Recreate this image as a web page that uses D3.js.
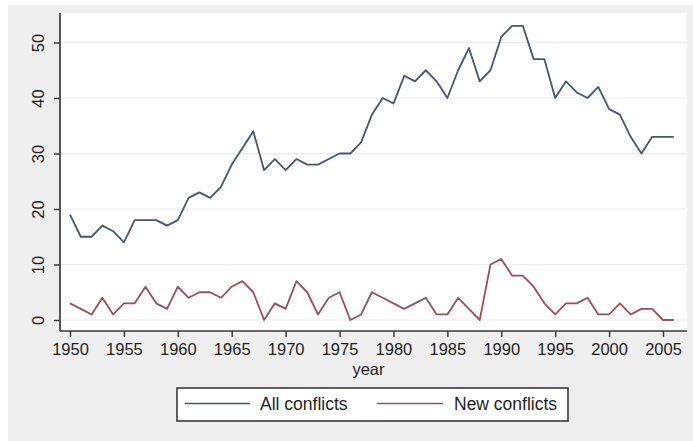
<!DOCTYPE html>
<html>
<head>
<meta charset="utf-8">
<script src="https://cdn.jsdelivr.net/npm/d3@7"></script>
<style>
  html, body { margin: 0; padding: 0; background: #ffffff; }
  svg { display: block; font-family: "Liberation Sans", Arial, sans-serif; }
</style>
</head>
<body>
<svg id="chart" width="693" height="441"></svg>
<script>
// Armed conflicts per year, 1950-2006
const years = d3.range(1950, 2007);
const allConflicts = [
  19, 15, 15, 17, 16, 14, 18, 18, 18, 17,
  18, 22, 23, 22, 24, 28, 31, 34, 27, 29,
  27, 29, 28, 28, 29, 30, 30, 32, 37, 40,
  39, 44, 43, 45, 43, 40, 45, 49, 43, 45,
  51, 53, 53, 47, 47, 40, 43, 41, 40, 42,
  38, 37, 33, 30, 33, 33, 33
];
const newConflicts = [
  3, 2, 1, 4, 1, 3, 3, 6, 3, 2,
  6, 4, 5, 5, 4, 6, 7, 5, 0, 3,
  2, 7, 5, 1, 4, 5, 0, 1, 5, 4,
  3, 2, 3, 4, 1, 1, 4, 2, 0, 10,
  11, 8, 8, 6, 3, 1, 3, 3, 4, 1,
  1, 3, 1, 2, 2, 0, 0
];
const xTicks = [1950, 1955, 1960, 1965, 1970, 1975, 1980, 1985, 1990, 1995, 2000, 2005];
const yTicks = [0, 10, 20, 30, 40, 50];
const seriesNames = ["All conflicts", "New conflicts"];
const seriesColors = ["#46566f", "#98505c"];

const svg = d3.select("#chart");

// graph region background
svg.append("rect").attr("x", 8).attr("y", 5).attr("width", 685).attr("height", 436)
  .attr("fill", "#efefef");

// plot region
const plot = { left: 60, right: 687, top: 13, bottom: 331 };
svg.append("rect")
  .attr("x", plot.left).attr("y", plot.top)
  .attr("width", plot.right - plot.left).attr("height", plot.bottom - plot.top)
  .attr("fill", "#ffffff");

const x = d3.scaleLinear().domain([1950, 2005]).range([70, 663]);
const y = d3.scaleLinear().domain([0, 50]).range([320, 42.5]);

// horizontal grid
svg.append("g").selectAll("line").data(yTicks).join("line")
  .attr("x1", plot.left).attr("x2", plot.right)
  .attr("y1", d => y(d)).attr("y2", d => y(d))
  .attr("stroke", "#ebebeb").attr("stroke-width", 1.2);

// y axis, labels turned upright along the axis
const yAxis = svg.append("g").attr("transform", `translate(${plot.left},0)`)
  .call(d3.axisLeft(y).tickValues(yTicks).tickSize(6).tickFormat(d3.format("d")));
yAxis.select(".domain").attr("d", `M0,${plot.top}V${plot.bottom}`);
yAxis.selectAll(".tick text")
  .attr("x", null).attr("y", null)
  .attr("transform", "translate(-22,0) rotate(-90)")
  .attr("text-anchor", "middle")
  .attr("dy", "0.35em");

// x axis
const xAxis = svg.append("g").attr("transform", `translate(0,${plot.bottom})`)
  .call(d3.axisBottom(x).tickValues(xTicks).tickSize(6).tickPadding(6).tickFormat(d3.format("d")));
xAxis.select(".domain").attr("d", `M${plot.left},0H${plot.right}`);

svg.selectAll(".domain").attr("stroke", "#3a3a3a").attr("stroke-width", 1.7);
svg.selectAll(".tick line").attr("stroke", "#3a3a3a").attr("stroke-width", 1.5);
svg.selectAll(".tick text").attr("font-size", 16.5).attr("fill", "#1e1e1e")
  .attr("font-family", "Liberation Sans, Arial, sans-serif");

// axis title
svg.append("text").attr("x", (x(1950) + x(2005)) / 2 + 2).attr("y", 375)
  .attr("text-anchor", "middle").attr("font-size", 16.5).attr("fill", "#1e1e1e")
  .text("year");

// series lines
const line = d3.line().x((d, i) => x(years[i])).y(d => y(d));
[allConflicts, newConflicts].forEach((vals, k) => {
  svg.append("path").datum(vals)
    .attr("d", line)
    .attr("fill", "none")
    .attr("stroke", seriesColors[k])
    .attr("stroke-width", 1.8)
    .attr("stroke-linejoin", "round");
});

// legend
const legend = svg.append("g");
legend.append("rect").attr("x", 177).attr("y", 388).attr("width", 391).attr("height", 33)
  .attr("fill", "#ffffff").attr("stroke", "#3a3a3a").attr("stroke-width", 1.6);
const legendItems = [
  { x1: 185, x2: 250, tx: 260 },
  { x1: 377, x2: 443, tx: 454 }
];
legendItems.forEach((it, k) => {
  legend.append("line").attr("x1", it.x1).attr("x2", it.x2)
    .attr("y1", 403.5).attr("y2", 403.5)
    .attr("stroke", seriesColors[k]).attr("stroke-width", 1.4);
  legend.append("text").attr("x", it.tx).attr("y", 410)
    .attr("font-size", 17.5).attr("fill", "#1e1e1e")
    .text(seriesNames[k]);
});
</script>
</body>
</html>
